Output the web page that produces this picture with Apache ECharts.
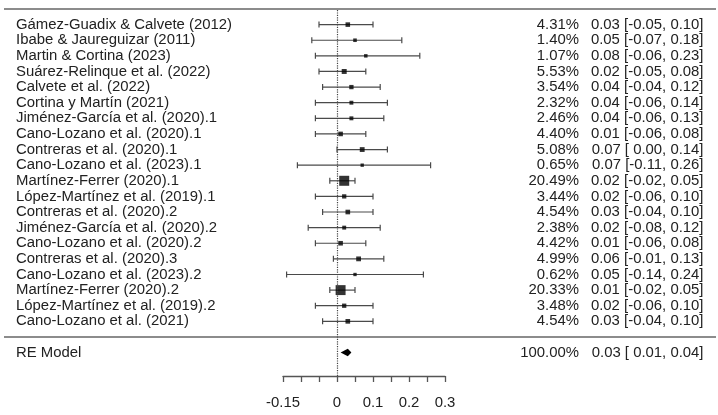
<!DOCTYPE html>
<html>
<head>
<meta charset="utf-8">
<script src="https://cdn.jsdelivr.net/npm/echarts@6/dist/echarts.min.js"></script>
<style>
  html, body { margin: 0; padding: 0; background: #fff; }
  #main { width: 718px; height: 415px; }
</style>
</head>
<body>
<div id="main"></div>
<script>
// Estudios (de arriba a abajo)
const studies = [
  "Gámez-Guadix & Calvete (2012)",
  "Ibabe & Jaureguizar (2011)",
  "Martin & Cortina (2023)",
  "Suárez-Relinque et al. (2022)",
  "Calvete et al. (2022)",
  "Cortina y Martín (2021)",
  "Jiménez-García et al. (2020).1",
  "Cano-Lozano et al. (2020).1",
  "Contreras et al. (2020).1",
  "Cano-Lozano et al. (2023).1",
  "Martínez-Ferrer (2020).1",
  "López-Martínez et al. (2019).1",
  "Contreras et al. (2020).2",
  "Jiménez-García et al. (2020).2",
  "Cano-Lozano et al. (2020).2",
  "Contreras et al. (2020).3",
  "Cano-Lozano et al. (2023).2",
  "Martínez-Ferrer (2020).2",
  "López-Martínez et al. (2019).2",
  "Cano-Lozano et al. (2021)"
];
const weights = [4.31, 1.40, 1.07, 5.53, 3.54, 2.32, 2.46, 4.40, 5.08, 0.65,
                 20.49, 3.44, 4.54, 2.38, 4.42, 4.99, 0.62, 20.33, 3.48, 4.54];
const estimates = [0.03, 0.05, 0.08, 0.02, 0.04, 0.04, 0.04, 0.01, 0.07, 0.07,
                   0.02, 0.02, 0.03, 0.02, 0.01, 0.06, 0.05, 0.01, 0.02, 0.03];
const ciLower = [-0.05, -0.07, -0.06, -0.05, -0.04, -0.06, -0.06, -0.06, 0.00, -0.11,
                 -0.02, -0.06, -0.04, -0.08, -0.06, -0.01, -0.14, -0.02, -0.06, -0.04];
const ciUpper = [0.10, 0.18, 0.23, 0.08, 0.12, 0.14, 0.13, 0.08, 0.14, 0.26,
                 0.05, 0.10, 0.10, 0.12, 0.08, 0.13, 0.24, 0.05, 0.10, 0.10];

// Modelo de efectos aleatorios
const summaryLabel = "RE Model";
const summaryWeight = [100.00];
const summaryEst = [0.03];
const summaryLower = [0.01];
const summaryUpper = [0.04];

// Etiquetas del eje x
const xTickLabels = [-0.15, 0, 0.1, 0.2, 0.3];

const k = studies.length;
const rows = studies.map((s, i) => k - i);   // 20 ... 1
const summaryRow = -1;

const fmt = (v) => (v < 0 ? "" : " ") + v.toFixed(2);
const ciText = (e, l, u) => e.toFixed(2) + " [" + fmt(l) + ", " + u.toFixed(2) + "]";

const leftLabel = {};
const rightLabel = {};
rows.forEach((r, i) => {
  leftLabel[r] = studies[i];
  rightLabel[r] = "{a|" + weights[i].toFixed(2) + "%}{b|" + ciText(estimates[i], ciLower[i], ciUpper[i]) + "}";
});
leftLabel[summaryRow] = summaryLabel;
rightLabel[summaryRow] = "{a|" + summaryWeight[0].toFixed(2) + "%}{b|" + ciText(summaryEst[0], summaryLower[0], summaryUpper[0]) + "}";

const wMin = Math.min(...weights);
const wMax = Math.max(...weights);
const boxSize = (w) => 10 * (0.5 + (w - wMin) / (wMax - wMin)) / 1.5;

const FONT = "'Liberation Sans', Arial, sans-serif";
const TXT = "#222";
const BAR = "#4a4a4a";

// Tamaño de letra ajustado al ancho del texto en la imagen original
const ctx = document.createElement("canvas").getContext("2d");
const textWidth = (txt) => { ctx.font = "100px " + FONT; return ctx.measureText(txt).width; };
const leftFont = +(100 * 216 / textWidth(studies[0])).toFixed(1);
const rightFont = +(100 * 113 / textWidth(ciText(estimates[0], ciLower[0], ciUpper[0]))).toFixed(1);

const chartDom = document.getElementById("main");
const myChart = echarts.init(chartDom);

const option = {
  backgroundColor: "#ffffff",
  animation: false,
  grid: { left: 283, right: 273, top: 9, bottom: 39 },
  xAxis: {
    type: "value",
    min: -0.15,
    max: 0.3,
    interval: 0.05,
    splitLine: { show: false },
    axisLine: { onZero: false, lineStyle: { color: "#555", width: 1.3 } },
    axisTick: { length: 6, lineStyle: { color: "#555", width: 1.3 } },
    axisLabel: {
      customValues: xTickLabels,
      formatter: (v) => String(+v.toFixed(2)),
      margin: 19,
      color: TXT,
      fontSize: rightFont,
      fontFamily: FONT
    }
  },
  yAxis: [
    {
      type: "value",
      min: -2.5,
      max: 21,
      splitLine: { show: false },
      axisLine: { show: false },
      axisTick: { show: false },
      axisLabel: {
        customValues: rows.concat([summaryRow]),
        formatter: (v) => leftLabel[Math.round(v)] || "",
        align: "left",
        margin: 267,
        color: TXT,
        fontSize: leftFont,
        fontFamily: FONT
      }
    },
    {
      type: "value",
      position: "right",
      min: -2.5,
      max: 21,
      splitLine: { show: false },
      axisLine: { show: false },
      axisTick: { show: false },
      axisLabel: {
        customValues: rows.concat([summaryRow]),
        formatter: (v) => rightLabel[Math.round(v)] || "",
        align: "left",
        margin: 0,
        color: TXT,
        fontSize: rightFont,
        fontFamily: FONT,
        rich: {
          a: { width: 134, align: "right", color: TXT, fontSize: rightFont, fontFamily: FONT },
          b: { width: 124.5, align: "right", color: TXT, fontSize: rightFont, fontFamily: FONT }
        }
      }
    }
  ],
  series: [
    {
      // Intervalos de confianza con remates
      name: "IC",
      type: "custom",
      silent: true,
      data: rows.map((r, i) => [ciLower[i], ciUpper[i], r]),
      renderItem: (params, api) => {
        const p1 = api.coord([api.value(0), api.value(2)]);
        const p2 = api.coord([api.value(1), api.value(2)]);
        const h = 3;
        const style = { stroke: BAR, lineWidth: 1.2 };
        return {
          type: "group",
          children: [
            { type: "line", shape: { x1: p1[0], y1: p1[1], x2: p2[0], y2: p2[1] }, style },
            { type: "line", shape: { x1: p1[0], y1: p1[1] - h, x2: p1[0], y2: p1[1] + h }, style },
            { type: "line", shape: { x1: p2[0], y1: p2[1] - h, x2: p2[0], y2: p2[1] + h }, style }
          ]
        };
      },
      z: 2
    },
    {
      name: "Estimación",
      type: "scatter",
      symbol: "rect",
      silent: true,
      data: rows.map((r, i) => [estimates[i], r, weights[i]]),
      symbolSize: (val) => boxSize(val[2]),
      itemStyle: { color: "#000" },
      z: 3,
      markLine: {
        silent: true,
        symbol: "none",
        label: { show: false },
        lineStyle: { type: "dotted", color: "#444", width: 1.2 },
        data: [{ xAxis: 0 }]
      }
    },
    {
      // Diamante del modelo RE
      name: summaryLabel,
      type: "custom",
      silent: true,
      data: [[summaryLower[0], summaryEst[0], summaryUpper[0], summaryRow]],
      renderItem: (params, api) => {
        const y = api.value(3);
        const l = api.coord([api.value(0), y]);
        const m = api.coord([api.value(1), y]);
        const u = api.coord([api.value(2), y]);
        const h = 3.8;
        return {
          type: "polygon",
          shape: { points: [[l[0], l[1]], [m[0], m[1] - h], [u[0], u[1]], [m[0], m[1] + h]] },
          style: { fill: "#000" }
        };
      },
      z: 3
    }
  ]
};

myChart.setOption(option);

// Líneas horizontales a todo el ancho (encabezado y separador)
const yTop = myChart.convertToPixel({ yAxisIndex: 0 }, 21);
const ySep = myChart.convertToPixel({ yAxisIndex: 0 }, 0);
myChart.setOption({
  graphic: [yTop, ySep].map((y) => ({
    type: "line",
    silent: true,
    shape: { x1: 4, y1: y, x2: 716, y2: y },
    style: { stroke: "#8c8c8c", lineWidth: 2 }
  }))
});
</script>
</body>
</html>
